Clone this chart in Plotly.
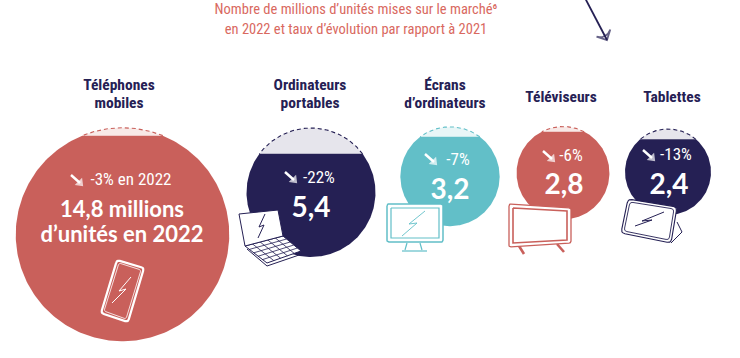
import numpy as np
import plotly.graph_objects as go

# ---- data ----
categories = [["Téléphones", "mobiles"], ["Ordinateurs", "portables"], ["Écrans", "d’ordinateurs"], ["Téléviseurs"], ["Tablettes"]]
units_2022 = [14.8, 5.4, 3.2, 2.8, 2.4]
evolution_pct = [-3, -22, -7, -6, -13]
cut_share = [0.037, 0.20, 0.10, 0.055, 0.12]   # share of the diameter left unfilled at the top

# ---- layout constants ----
RED, NAVY, TEAL = "#C9605B", "#252054", "#62BFC8"
TITLE_RED = "#D9695F"
colors = [RED, NAVY, TEAL, RED, NAVY]
tints = ["#F8E9E7", "#E6E5EC", "#E8F6F7", "#F8E9E7", "#E6E5EC"]
cx = [122.5, 311, 450, 563, 668]
cy = [234.5, 192.5, 176.5, 173, 172]
SCALE = 27.75
title_x = [119, 310, 445, 561, 672]
title_y = [[86, 104], [86, 104], [86, 104], [98], [98]]
evo_x = [131, 319, 458, 571, 676]
evo_y = [181, 179, 161, 157, 156]
val_x = [311, 450, 564, 669]
val_y = [210, 192, 187, 187]
arrow_tail = [(71, 175), (285, 172), (425, 154), (543, 151), (643, 150)]
COND = "Roboto Condensed, Liberation Sans Narrow, Roboto"
BIG = "Lato, DejaVu Sans"
W = "#FFFFFF"

fig = go.Figure()


def add(x, y, **kw):
    fig.add_trace(go.Scatter(x=x, y=y, hoverinfo="skip", showlegend=False, **kw))


for i, v in enumerate(units_2022):
    r = SCALE * np.sqrt(v)
    a = np.arcsin(np.clip(1 - 2 * cut_share[i], -1, 1))
    top = np.linspace(a, np.pi - a, 80)
    low = np.linspace(np.pi - a, 2 * np.pi + a, 240)
    xt, yt = cx[i] + r * np.cos(top), cy[i] - r * np.sin(top)
    xl, yl = cx[i] + r * np.cos(low), cy[i] - r * np.sin(low)
    add(xt, yt, mode="lines", fill="toself", fillcolor=tints[i], line=dict(width=0, color=tints[i]))
    add(xt, yt, mode="lines", line=dict(color=colors[i], width=1.1, dash="4px,3px"))
    add(xl, yl, mode="lines", fill="toself", fillcolor=colors[i], line=dict(width=0, color=colors[i]))


def rounded(pts, rad):
    """Round the corners of a closed polygon."""
    out = []
    n = len(pts)
    for k in range(n):
        p = np.array(pts[k], float)
        a = np.array(pts[k - 1], float)
        b = np.array(pts[(k + 1) % n], float)
        pa = p + (a - p) / np.linalg.norm(a - p) * rad
        pb = p + (b - p) / np.linalg.norm(b - p) * rad
        for t in np.linspace(0, 1, 6):
            out.append(tuple((1 - t) ** 2 * pa + 2 * t * (1 - t) * p + t ** 2 * pb))
    return out


def poly(pts, line, width=1.2, fill=None, close=True):
    xs = [p[0] for p in pts]
    ys = [p[1] for p in pts]
    if close:
        xs.append(xs[0])
        ys.append(ys[0])
    kw = dict(mode="lines", line=dict(color=line, width=width))
    if fill:
        kw.update(fill="toself", fillcolor=fill)
    add(xs, ys, **kw)


def lerp(a, b, t):
    return (a[0] + (b[0] - a[0]) * t, a[1] + (b[1] - a[1]) * t)


# phone icon
poly(rounded([(117, 260), (144, 268), (128, 322), (101, 313)], 3), W, 2.2)
poly(rounded([(119, 263), (141, 270), (126, 319), (104, 311)], 2), W, 0.8)
poly([(131, 277), (119, 291), (126, 289), (112, 303)], W, 1, close=False)

# laptop icon
poly([(245, 246), (283, 236), (301, 251), (267, 263)], NAVY, 1, W)
poly([(247, 249), (267, 266), (302, 254)], NAVY, 1, close=False)
for t in (0.2, 0.4, 0.6, 0.8):
    poly([lerp((245, 246), (283, 236), t), lerp((267, 263), (301, 251), t)], NAVY, 0.8, close=False)
    poly([lerp((245, 246), (267, 263), t), lerp((283, 236), (301, 251), t)], NAVY, 0.8, close=False)
poly([(239, 214), (278, 210), (283, 236), (245, 246)], NAVY, 1, W)
poly([(265, 214), (259, 227), (264, 225), (258, 238)], NAVY, 1, close=False)

# monitor icon
poly([(402, 251), (427, 251)], TEAL, 1.2, close=False)
poly([(407, 243), (405, 250)], TEAL, 1.2, close=False)
poly([(420, 243), (422, 250)], TEAL, 1.2, close=False)
poly(rounded([(387, 204), (443, 204), (443, 242), (387, 242)], 2), TEAL, 1.5, W)
poly([(391, 208), (439, 208), (439, 238), (391, 238)], TEAL, 1.2)
poly([(425, 211), (409, 224), (417, 223), (402, 236)], TEAL, 0.9, close=False)

# TV icon
poly([(519, 246), (524, 254)], RED, 2.6, close=False)
poly([(557, 244), (564, 252)], RED, 2.6, close=False)
poly(rounded([(509, 204), (571, 208), (571, 243), (509, 247)], 2), RED, 1.3, W)
poly([(513, 208), (567, 211), (567, 240), (513, 243)], RED, 1.6)

# tablet icon
poly([(677, 222), (682, 232), (671, 243)], NAVY, 1, close=False)
poly(rounded([(628, 199), (677, 207), (671, 243), (621, 233)], 4), NAVY, 1.1, W)
poly(rounded([(630, 202), (674, 209), (669, 240), (624, 231)], 3), NAVY, 0.9)
poly([(664, 212), (642, 221), (652, 220), (635, 226)], NAVY, 1, close=False)

# text
for tx, ty, lines in zip(title_x, title_y, categories):
    add([tx] * len(lines), ty, mode="text", text=[f"<b>{c}</b>" for c in lines],
        textposition="middle center", textfont=dict(family=COND, size=15.5, color=NAVY))
evo_text = [f"{e}%" for e in evolution_pct]
evo_text[0] += " en 2022"
add(evo_x, evo_y, mode="text", text=evo_text, textposition="middle center",
    textfont=dict(family=COND, size=17, color=W))
add(val_x, val_y, mode="text",
    text=[f"<b>{str(v).replace('.', ',')}</b>" for v in units_2022[1:]],
    textposition="middle center", textfont=dict(family=BIG, size=28, color=W))
add([122, 122], [211, 236], mode="text",
    text=[f"<b>{str(units_2022[0]).replace('.', ',')} millions</b>", "<b>d’unités en 2022</b>"],
    textposition="middle center", textfont=dict(family=BIG, size=22, color=W))
add([356, 356], [10, 30], mode="text",
    text=["Nombre de millions d’unités mises sur le marché⁶",
          "en 2022 et taux d’évolution par rapport à 2021"],
    textposition="middle center", textfont=dict(family=COND, size=14.5, color=TITLE_RED))

# arrows
for (x0, y0) in arrow_tail:
    add([x0, x0 + 9], [y0, y0 + 8], mode="lines", line=dict(color=W, width=2.4))
    add([x0 + 8, x0 + 9], [y0 + 7, y0 + 8], mode="markers",
        marker=dict(symbol="triangle-up", size=[0, 9], angleref="previous", color=W, line=dict(width=0)))
add([585, 607], [-2, 40], mode="lines+markers", line=dict(color=NAVY, width=1.8),
    marker=dict(symbol="arrow-wide-open", size=[0, 11], angleref="previous", color=NAVY, line=dict(width=1.8, color=NAVY)),
    cliponaxis=False)

fig.update_layout(
    width=740, height=358, margin=dict(l=0, r=0, t=0, b=0),
    paper_bgcolor="white", plot_bgcolor="white",
    xaxis=dict(range=[0, 740], visible=False, fixedrange=True),
    yaxis=dict(range=[358, 0], visible=False, fixedrange=True),
)
fig.write_html("out.html", config=dict(displayModeBar=False),
               post_script="document.body.style.margin='0';document.body.style.overflow='hidden';")
